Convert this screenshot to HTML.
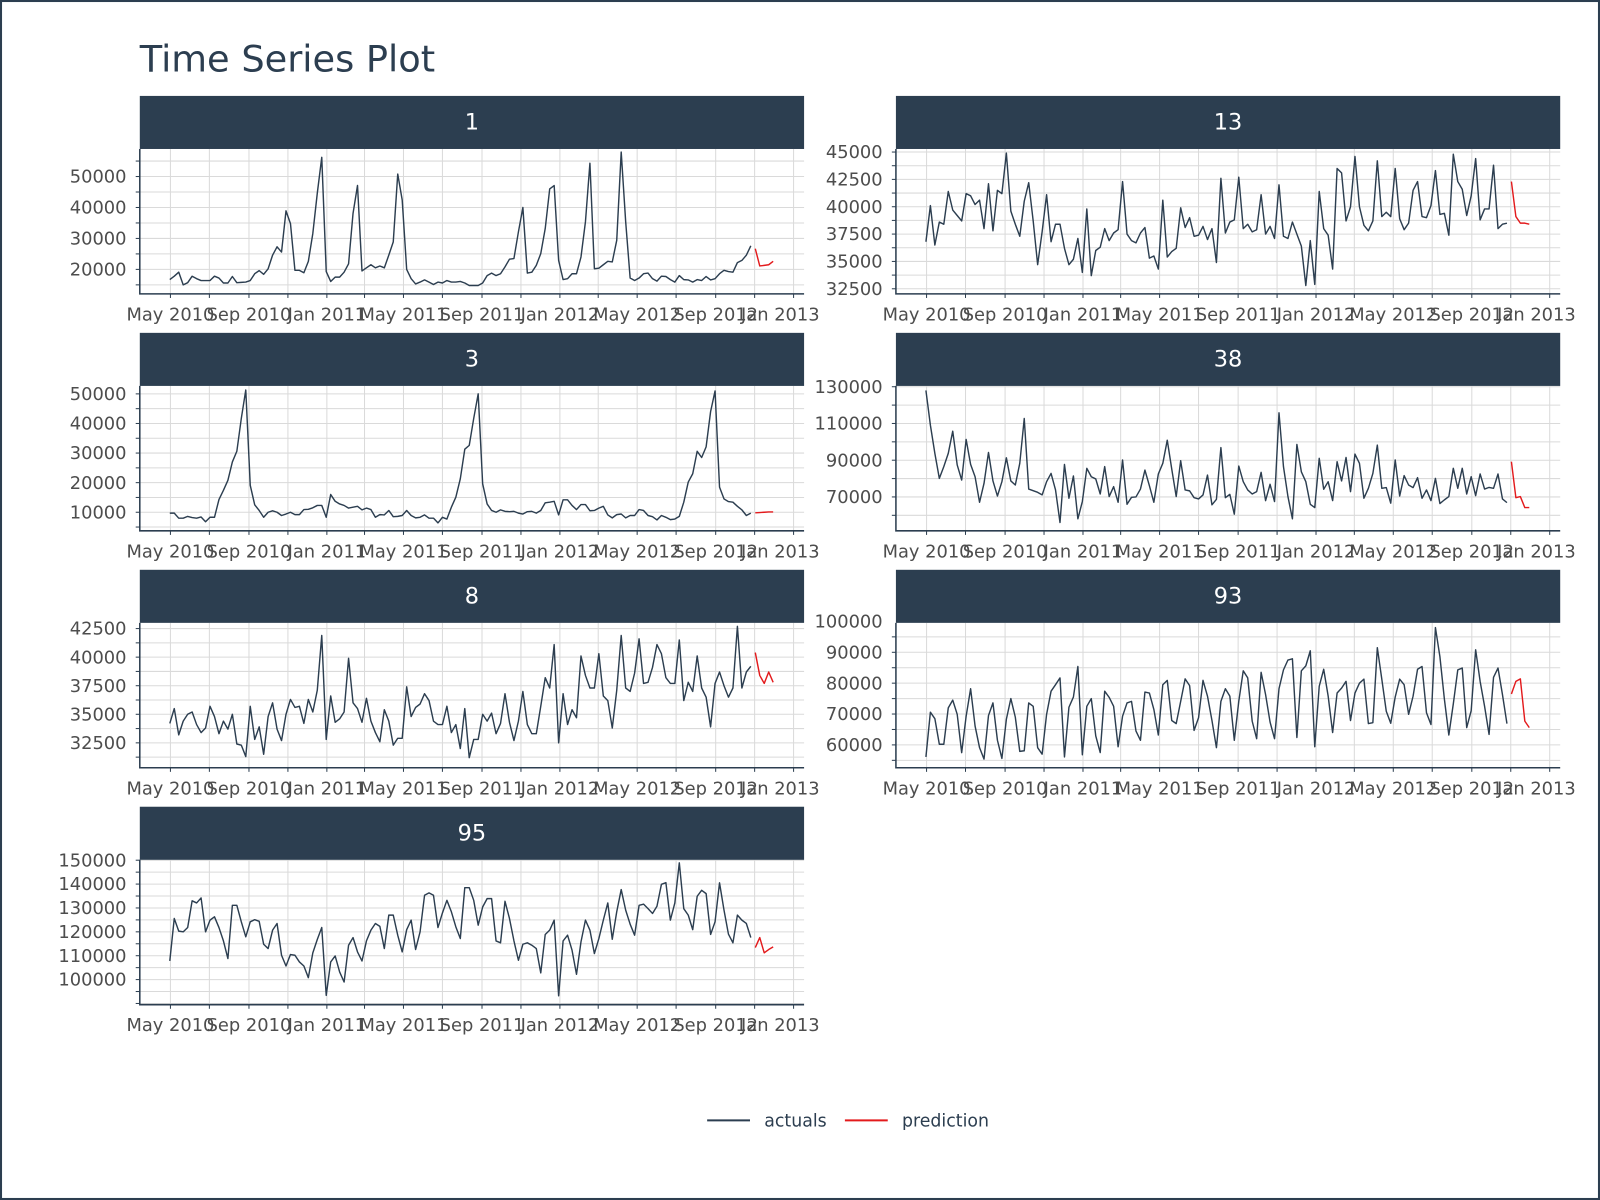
<!DOCTYPE html>
<html><head><meta charset="utf-8"><title>Time Series Plot</title>
<style>
html,body{margin:0;padding:0;background:#fff;}
svg{display:block;font-family:"DejaVu Sans","Liberation Sans",sans-serif;}
</style></head>
<body>
<svg id="chart" width="1600" height="1200" viewBox="0 0 1568 1176" xmlns="http://www.w3.org/2000/svg">
<rect x="1" y="1" width="1566" height="1174" fill="#fff" stroke="#2c3e50" stroke-width="2"/>
<text x="137" y="70" font-size="36" fill="#2c3e50">Time Series Plot</text>
<g>
<line x1="693" y1="1098" x2="735" y2="1098" stroke="#2c3e50" stroke-width="2"/>
<text x="749" y="1104" font-size="17" fill="#2c3e50">actuals</text>
<line x1="828" y1="1098" x2="870" y2="1098" stroke="#e31a1c" stroke-width="2"/>
<text x="884" y="1104" font-size="17" fill="#2c3e50">prediction</text>
</g>
</svg>
<script>
// ---- data (values in thousands) ----
const panelIds = ["1","13","3","38","8","93","95"];
const actuals1 = [16.7,17.8,19.1,15.0,15.7,17.8,17.0,16.4,16.4,16.4,17.8,17.2,15.6,15.6,17.7,15.7,15.8,15.9,16.4,18.6,19.6,18.4,20.2,24.6,27.3,25.6,38.9,34.8,19.7,19.7,18.9,22.6,31.6,44.6,56.2,19.3,16.1,17.5,17.5,19.1,21.8,38.1,47.1,19.5,20.5,21.5,20.5,21.1,20.5,24.6,28.9,50.8,42.4,20.0,17.0,15.3,15.9,16.6,15.9,15.1,15.9,15.6,16.4,15.9,15.9,16.1,15.6,14.8,14.8,14.8,15.6,18.0,18.8,18.0,18.6,20.8,23.3,23.5,32.1,40.0,18.8,19.1,21.3,25.1,33.2,46.0,47.1,22.9,16.7,17.0,18.6,18.6,24.0,35.4,54.3,20.2,20.4,21.5,22.6,22.4,29.4,57.9,35.4,17.2,16.4,17.2,18.6,18.8,17.0,16.2,17.8,17.7,16.7,15.9,18.0,16.7,16.6,15.9,16.7,16.4,17.7,16.6,17.0,18.6,19.7,19.3,19.1,22.2,22.9,24.6,27.6];
const pred1 = [26.7,21.1,21.3,21.5,22.6];
const actuals13 = [36.8,40.1,36.5,38.6,38.4,41.4,39.7,39.2,38.7,41.2,41.0,40.2,40.6,38.0,42.1,37.8,41.5,41.2,44.9,39.6,38.4,37.3,40.5,42.2,38.7,34.7,37.7,41.1,36.8,38.4,38.4,36.2,34.7,35.2,37.1,34.0,39.8,33.7,36.0,36.3,38.0,36.9,37.6,37.9,42.3,37.5,36.9,36.7,37.6,38.1,35.3,35.5,34.3,40.6,35.4,35.9,36.2,39.9,38.1,39.0,37.3,37.4,38.2,37.0,38.0,34.9,42.6,37.6,38.6,38.8,42.7,38.0,38.4,37.7,37.9,41.1,37.5,38.2,37.1,42.0,37.3,37.1,38.6,37.5,36.4,32.8,36.9,32.9,41.4,38.0,37.4,34.3,43.5,43.1,38.7,40.0,44.6,40.0,38.3,37.8,38.7,44.2,39.1,39.5,39.1,43.5,38.9,37.9,38.5,41.5,42.3,39.1,39.0,40.1,43.3,39.3,39.4,37.4,44.8,42.3,41.6,39.2,41.0,44.4,38.8,39.8,39.8,43.8,38.0,38.4,38.5];
const pred13 = [42.3,39.1,38.5,38.5,38.4];
const actuals3 = [9.7,9.7,8.0,8.0,8.6,8.2,8.0,8.4,6.8,8.3,8.3,14.3,17.4,20.8,27.0,30.6,41.7,51.3,19.1,12.5,10.6,8.3,10.0,10.5,10.0,8.9,9.4,10.0,9.2,9.2,10.9,11.0,11.5,12.3,12.3,8.3,16.0,13.7,12.8,12.3,11.4,11.7,12.0,10.8,11.4,10.9,8.3,9.2,9.1,10.6,8.5,8.6,8.9,10.6,8.9,8.1,8.3,9.1,8.0,8.0,6.4,8.3,7.7,11.7,15.1,21.3,31.3,32.6,41.7,50.0,19.6,12.8,10.6,10.0,10.8,10.3,10.2,10.3,9.7,9.4,10.2,10.3,9.7,10.6,13.2,13.4,13.7,9.1,14.2,14.2,12.3,10.9,12.6,12.6,10.5,10.6,11.4,12.0,9.1,8.1,9.2,9.4,8.1,8.9,8.9,10.9,10.6,8.9,8.5,7.4,8.9,8.3,7.5,7.7,8.6,13.4,20.2,23.0,30.6,28.5,32.1,44.0,51.0,18.5,14.5,13.6,13.4,12.0,10.8,8.9,9.7];
const pred3 = [9.8,9.9,10.0,10.1,10.1];
const actuals38 = [128.0,109.1,93.7,80.1,86.5,93.7,105.8,87.4,79.2,101.3,87.7,81.0,67.1,77.4,94.2,78.7,70.5,78.3,91.3,78.7,76.5,88.3,112.7,74.3,73.4,72.5,71.1,78.3,82.8,73.8,56.1,87.7,69.3,81.4,58.1,67.5,85.6,81.0,79.8,71.6,86.5,70.2,75.6,67.1,90.1,66.0,69.8,70.0,74.3,84.6,76.1,67.1,82.5,88.3,100.9,85.2,70.2,89.7,73.8,73.3,69.6,68.9,71.1,81.9,65.7,68.7,96.9,69.6,71.4,60.6,86.8,78.3,73.8,71.6,72.9,83.4,68.0,76.9,67.5,115.8,86.5,70.2,58.1,98.6,83.7,78.3,66.0,64.2,91.0,74.2,78.3,68.0,89.2,78.7,91.5,72.9,93.3,88.3,69.3,74.7,82.8,98.2,74.7,75.1,66.6,90.1,70.5,81.6,76.5,75.1,80.5,69.3,73.8,68.0,80.1,66.4,68.4,70.2,85.6,74.7,85.6,71.6,81.0,70.7,82.5,74.3,75.2,74.7,82.5,68.9,66.9];
const pred38 = [89.2,69.6,70.2,64.2,64.2];
const actuals8 = [34.2,35.5,33.2,34.4,35.0,35.2,34.1,33.4,33.8,35.7,34.8,33.3,34.4,33.7,35.0,32.4,32.3,31.3,35.7,32.8,33.9,31.5,34.8,36.0,33.7,32.7,35.0,36.3,35.6,35.7,34.2,36.3,35.2,37.1,41.9,32.8,36.6,34.3,34.6,35.2,39.9,36.0,35.5,34.3,36.4,34.4,33.4,32.6,35.4,34.4,32.3,32.9,32.9,37.4,34.8,35.6,35.9,36.8,36.2,34.4,34.1,34.1,35.7,33.4,34.1,32.0,35.5,31.2,32.8,32.8,35.0,34.4,35.1,33.3,34.2,36.8,34.3,32.7,34.4,37.0,34.1,33.3,33.3,35.7,38.2,37.3,41.1,32.5,36.8,34.1,35.4,34.7,40.1,38.4,37.3,37.3,40.3,36.6,36.2,33.8,37.1,41.9,37.3,37.0,38.6,41.6,37.7,37.8,39.1,41.1,40.3,38.2,37.7,37.7,41.5,36.2,37.8,37.0,40.1,37.3,36.5,33.9,37.7,38.7,37.5,36.5,37.3,42.7,37.3,38.7,39.2];
const pred8 = [40.4,38.4,37.7,38.7,37.8];
const actuals93 = [56.1,70.6,68.5,60.2,60.2,72.0,74.5,69.9,57.5,69.3,78.2,66.1,59.1,55.4,69.5,73.6,61.5,55.6,68.3,75.0,69.0,57.9,58.1,73.6,72.5,59.1,57.0,69.9,77.4,79.5,81.7,56.1,72.2,75.5,85.4,56.8,72.5,75.0,62.9,57.5,77.4,75.4,72.5,59.4,69.3,73.6,74.1,64.5,61.5,77.1,76.8,71.5,63.2,79.5,80.9,67.9,66.9,74.1,81.4,79.2,64.7,68.8,80.9,75.8,67.9,59.1,74.1,78.2,75.8,61.5,74.1,84.0,81.7,67.7,62.0,83.5,76.3,67.4,62.0,78.2,84.3,87.5,87.9,62.4,84.0,85.6,90.5,59.4,79.0,84.5,75.8,64.0,76.8,78.4,80.6,67.9,76.8,80.0,81.3,66.9,67.2,91.5,81.3,70.9,67.0,75.5,81.3,79.5,69.9,75.8,84.5,85.4,70.4,66.6,98.0,88.6,74.9,63.2,73.3,84.3,84.9,65.6,71.1,90.8,80.6,72.5,63.4,81.9,84.9,76.3,66.9];
const pred93 = [76.5,80.6,81.4,67.7,65.6];
const actuals95 = [107.8,125.6,120.3,120.0,121.8,133.0,132.1,134.2,120.0,124.9,126.3,121.8,116.2,108.8,131.1,131.1,124.2,117.9,124.2,125.1,124.4,114.8,113.0,120.7,123.5,110.2,105.7,110.5,110.2,107.4,105.7,100.8,111.2,116.8,121.8,93.4,107.4,109.9,103.2,99.0,114.4,117.6,111.6,107.8,116.2,120.7,123.5,122.3,113.0,127.0,127.0,118.6,111.6,120.9,124.9,112.6,120.0,135.3,136.3,135.3,121.8,127.9,133.2,128.4,122.1,117.2,138.5,138.5,133.2,122.8,130.4,133.9,133.9,116.2,115.4,132.8,125.6,116.2,108.1,114.8,115.4,114.4,113.0,102.8,118.9,120.7,124.9,93.2,116.2,118.6,112.3,102.2,115.8,124.9,120.7,110.9,117.2,124.9,132.1,116.9,128.4,137.7,129.1,123.2,118.6,131.1,131.6,129.7,127.7,130.7,139.9,140.6,124.9,132.1,148.9,129.7,127.0,120.9,134.9,137.4,136.0,118.9,124.2,140.5,129.1,119.0,115.4,127.0,124.9,123.5,117.6];
const pred95 = [113.4,117.6,111.2,112.6,113.7];
const ticks1 = [20,30,40,50];
const ticks13 = [32.5,35,37.5,40,42.5,45];
const ticks3 = [10,20,30,40,50];
const ticks38 = [70,90,110,130];
const ticks8 = [32.5,35,37.5,40,42.5];
const ticks93 = [60,70,80,90,100];
const ticks95 = [100,110,120,130,140,150];
const xTickLabels = ["May 2010","Sep 2010","Jan 2011","May 2011","Sep 2011","Jan 2012","May 2012","Sep 2012","Jan 2013"];

const NS = "http://www.w3.org/2000/svg";
const svg = document.getElementById("chart");
function mk(tag, attrs, parent){ const e=document.createElementNS(NS,tag); for(const k in attrs) e.setAttribute(k,attrs[k]); (parent||svg).appendChild(e); return e; }

const panels = [
 {id:"1", act:actuals1, pred:pred1, ticks:ticks1, col:0,row:0, a:[20,264], b:[50,173], step:10},
 {id:"13",act:actuals13,pred:pred13,ticks:ticks13,col:1,row:0, a:[32.5,283], b:[45,149], step:2.5},
 {id:"3", act:actuals3, pred:pred3, ticks:ticks3, col:0,row:1, a:[10,502], b:[50,386], step:10},
 {id:"38",act:actuals38,pred:pred38,ticks:ticks38,col:1,row:1, a:[70,487], b:[130,379], step:20},
 {id:"8", act:actuals8, pred:pred8, ticks:ticks8, col:0,row:2, a:[32.5,728], b:[42.5,616], step:2.5},
 {id:"93",act:actuals93,pred:pred93,ticks:ticks93,col:1,row:2, a:[60,730], b:[100,609], step:10},
 {id:"95",act:actuals95,pred:pred95,ticks:ticks95,col:0,row:3, a:[100,960], b:[150,843], step:10}
];
const startDate = Date.UTC(2010,3,30);
const PX_DAY = 0.6257, PX_WEEK = 4.38;

panels.forEach(p=>{
  const L = 137 + p.col*741, R = L + 651;
  const HT = 94 + p.row*232.2, PT = HT + 52, PB = PT + 142;
  const yS = v => p.a[1] + (v - p.a[0]) * (p.b[1]-p.a[1])/(p.b[0]-p.a[0]);
  const xI = i => L + 29.4 + i*PX_WEEK;
  const xD = d => L + 29.4 + (d - startDate)/86400000*PX_DAY;
  const g = mk("g",{});
  
  
  const bg = mk("rect",{x:L,y:PT,width:R-L,height:PB-PT,fill:"#fff"},g);
  
  
  for(let v=p.ticks[0]-p.step; v<=p.ticks[p.ticks.length-1]+p.step+1e-9; v+=p.step/2){
    const y = yS(v); if(y<PT||y>PB) continue;
    const gl = mk("line",{x1:L,x2:R,y1:y,y2:y,stroke:"#dadada","stroke-width":1},g);
    
    
  }
  for(let m=4; m<=4+34; m+=2){
    const d = Date.UTC(2010,m,1); const x = xD(d); if(x<L||x>R) continue;
    const gl = mk("line",{x1:x,x2:x,y1:PT,y2:PB,stroke:"#dadada","stroke-width":1},g);
    
    
    const tk = mk("line",{x1:x,x2:x,y1:PB,y2:PB+4,stroke:"#2c3e50","stroke-width":1},g);
    
    
  }
  xTickLabels.forEach((lab,k)=>{
    let x = xD(Date.UTC(2010,4+4*k,1)); if(k===xTickLabels.length-1) x -= 13;
    const t = mk("text",{x:x,y:PB+26,"font-size":17.5,fill:"#4d4d4d","text-anchor":"middle"},g);
    t.textContent = lab;
    
    
  });
  p.ticks.forEach(v=>{
    const y=yS(v);
    const t = mk("text",{x:L-13,y:y+6,"font-size":17.5,fill:"#4d4d4d","text-anchor":"end"},g);
    t.textContent = String(Math.round(v*1000));
    
    
  });
  for(let v=p.ticks[0]-p.step; v<=p.ticks[p.ticks.length-1]+p.step+1e-9; v+=p.step/2){
    const y=yS(v); if(y<PT||y>PB) continue;
    const tk = mk("line",{x1:L-4,x2:L,y1:y,y2:y,stroke:"#2c3e50","stroke-width":1},g);
    
    
  }
  const ax = mk("polyline",{points:`${L},${PT} ${L},${PB} ${R},${PB}`,fill:"none",stroke:"#2c3e50","stroke-width":1.5},g);
  
  
  const pa = p.act.map((v,i)=>xI(i).toFixed(2)+","+yS(v).toFixed(2)).join(" ");
  const la = mk("polyline",{points:pa,fill:"none",stroke:"#2c3e50","stroke-width":1.4,"stroke-linejoin":"round"},g);
  
  
  const n = p.act.length;
  const pp = p.pred.map((v,i)=>xI(n+i).toFixed(2)+","+yS(v).toFixed(2)).join(" ");
  const lp = mk("polyline",{points:pp,fill:"none",stroke:"#e31a1c","stroke-width":1.4,"stroke-linejoin":"round"},g);
  
  
  const hd = mk("rect",{x:L,y:HT,width:R-L,height:52,fill:"#2c3e50"},g);
  
  
  const ht = mk("text",{x:(L+R)/2,y:HT+33,"font-size":22,fill:"#fff","text-anchor":"middle"},g);
  ht.textContent = p.id;
  
  
});
</script>
</body></html>
